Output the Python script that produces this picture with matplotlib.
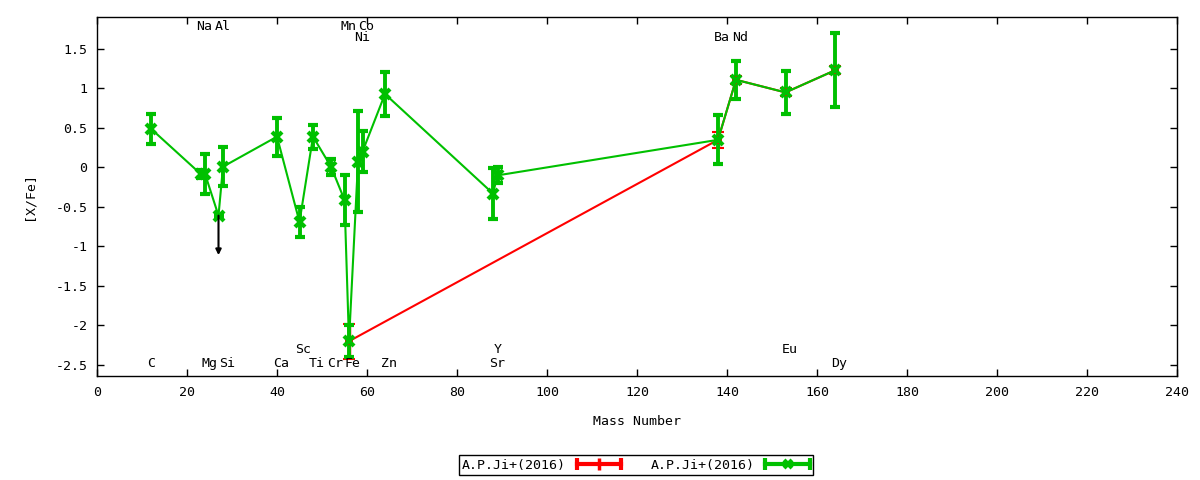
import matplotlib
matplotlib.use("Agg")
import matplotlib.pyplot as plt
from matplotlib.lines import Line2D
from matplotlib.legend_handler import HandlerLine2D, HandlerTuple
from matplotlib.ticker import FuncFormatter

# abundances of one star, [X/Fe] against mass number
elems = ["C", "Na", "Mg", "Al", "Si", "Ca", "Sc", "Ti", "Cr", "Mn",
         "Fe", "Ni", "Co", "Zn", "Sr", "Y", "Ba", "Nd", "Eu", "Dy"]
mass = [12, 23, 24, 27, 28, 40, 45, 48, 52, 55,
        56, 58, 59, 64, 88, 89, 138, 142, 153, 164]
xfe = [0.49, -0.08, -0.08, -0.61, 0.01, 0.39, -0.69, 0.39, 0.01, -0.41,
       -2.20, 0.07, 0.20, 0.93, -0.33, -0.10, 0.35, 1.11, 0.95, 1.23]
err = [0.19, 0.05, 0.25, 0.0, 0.25, 0.24, 0.19, 0.15, 0.10, 0.32,
       0.20, 0.64, 0.26, 0.28, 0.32, 0.10, 0.31, 0.24, 0.27, 0.47]

# second entry (drawn in red, mostly hidden under the green one)
red_mass = [56, 138, 142, 153, 164]
red_xfe = [-2.20, 0.35, 1.11, 0.95, 1.23]
red_err = [0.22, 0.10, 0.05, 0.05, 0.05]

# upper limit for Al
lim_mass = 27
lim_xfe = -0.61
lim_len = 0.5

# element labels, rows at top and bottom of the plot
row_top = ["Na", "Al", "Mn", "Co"]
row_top2 = ["Ni", "Ba", "Nd"]
row_bot2 = ["Sc", "Y", "Eu"]
row_bot = ["C", "Mg", "Si", "Ca", "Ti", "Cr", "Fe", "Zn", "Sr", "Dy"]
row_y = [1.78, 1.65, -2.30, -2.48]

legend_name = "A.P.Ji+(2016)"

plt.rcParams["font.family"] = ["DejaVu Sans Mono"]
plt.rcParams["font.size"] = 9.5
plt.rcParams["axes.unicode_minus"] = False

RED = "#ff0000"
GREEN = "#00c000"

fig = plt.figure(figsize=(12, 4.8), dpi=100)
ax = fig.add_axes([97/1200, 104/480, 1080/1200, 359/480])

ax.errorbar(red_mass, red_xfe, yerr=red_err, color=RED, lw=1.5,
            elinewidth=2.5, capsize=4, capthick=2.2,
            marker="+", ms=6, mew=1.5)
ax.errorbar(mass, xfe, yerr=err, color=GREEN, lw=1.5,
            elinewidth=2.8, capsize=3.6, capthick=2.4,
            marker="x", ms=7, mew=3)

ax.annotate("", xy=(lim_mass, lim_xfe - lim_len), xytext=(lim_mass, lim_xfe),
            arrowprops=dict(arrowstyle="-|>", color="black", lw=1.5,
                            mutation_scale=8, shrinkA=0, shrinkB=0))

pos = dict(zip(elems, mass))
for row, yy in zip([row_top, row_top2, row_bot2, row_bot], row_y):
    for e in row:
        ax.annotate(e, (pos[e], yy), xytext=(-4, 0), textcoords="offset pixels",
                    ha="left", va="center")

ax.set_xlim(0, 240)
ax.set_ylim(-2.64, 1.905)
ax.set_xticks(range(0, 241, 20))
ax.set_yticks([-2.5, -2, -1.5, -1, -0.5, 0, 0.5, 1, 1.5])
ax.yaxis.set_major_formatter(FuncFormatter(lambda v, p: "%g" % v))
ax.tick_params(direction="in", length=5, width=1, top=True, right=True, pad=7)
ax.set_xlabel("Mass Number", labelpad=12)
ax.set_ylabel("[X/Fe]", labelpad=14)
for s in ax.spines.values():
    s.set_linewidth(1)

# legend: gnuplot style errorbar samples
red_caps = Line2D([], [], color=RED, lw=3, marker="|", ms=8, mew=3)
red_mid = Line2D([], [], color=RED, lw=0, marker="|", ms=9, mew=2.5)
grn_caps = Line2D([], [], color=GREEN, lw=3, marker="|", ms=8, mew=3)
grn_mid = Line2D([], [], color=GREEN, lw=0, marker="x", ms=6, mew=3)
hmap = {red_caps: HandlerLine2D(numpoints=2, marker_pad=0),
        grn_caps: HandlerLine2D(numpoints=2, marker_pad=0),
        red_mid: HandlerLine2D(numpoints=1),
        grn_mid: HandlerLine2D(numpoints=1),
        tuple: HandlerTuple(ndivide=1)}
leg = fig.legend([(red_caps, red_mid), (grn_caps, grn_mid)],
                 [legend_name, legend_name], handler_map=hmap,
                 loc="center", bbox_to_anchor=(636/1200, 15/480), ncol=2,
                 markerfirst=False, handlelength=3.4, columnspacing=2.2,
                 fancybox=False, framealpha=1, borderpad=0.25,
                 handletextpad=0.8)
leg.get_frame().set_edgecolor("black")
leg.get_frame().set_linewidth(1)

fig.savefig("out.png", dpi=100)
